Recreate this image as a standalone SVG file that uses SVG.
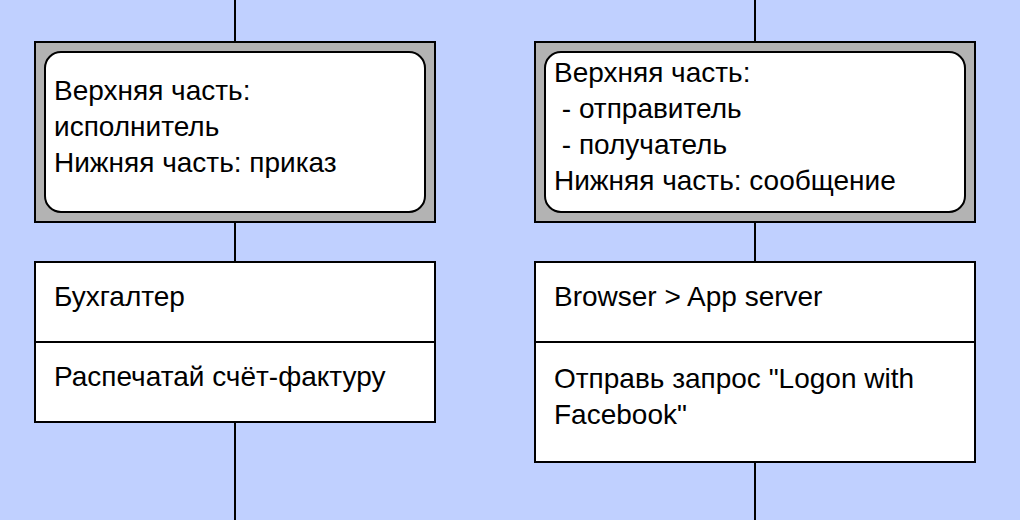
<svg xmlns="http://www.w3.org/2000/svg" width="1020" height="520" viewBox="0 0 1020 520">
<style>
.ln{stroke:#000;stroke-width:2;fill:none}
.outer{fill:#b3b3b3;stroke:#000;stroke-width:2}
.inner{fill:#fff;stroke:#000;stroke-width:2}
.box{fill:#fff;stroke:#000;stroke-width:2}
text{font-family:"Liberation Sans",Arial,sans-serif;font-size:28px;fill:#000}
</style>
<rect width="1020" height="520" fill="#c0d0ff"/>
<g id="connectors">
<line class="ln" x1="235" y1="0" x2="235" y2="42"/>
<line class="ln" x1="235" y1="222" x2="235" y2="262"/>
<line class="ln" x1="235" y1="422" x2="235" y2="520"/>
<line class="ln" x1="755" y1="0" x2="755" y2="42"/>
<line class="ln" x1="755" y1="222" x2="755" y2="262"/>
<line class="ln" x1="755" y1="462" x2="755" y2="520"/>
</g>
<g id="legend-left">
<rect class="outer" x="35" y="42" width="400" height="180"/>
<rect class="inner" x="45" y="52" width="380" height="160" rx="16"/>
<text x="54" y="100">Верхняя часть:</text>
<text x="54" y="136">исполнитель</text>
<text x="54" y="172">Нижняя часть: приказ</text>
</g>
<g id="legend-right">
<rect class="outer" x="535" y="42" width="440" height="180"/>
<rect class="inner" x="545" y="52" width="420" height="160" rx="16"/>
<text x="554" y="82">Верхняя часть:</text>
<text x="554" y="118" xml:space="preserve"> - отправитель</text>
<text x="554" y="154" xml:space="preserve"> - получатель</text>
<text x="554" y="190">Нижняя часть: сообщение</text>
</g>
<g id="message-left">
<rect class="box" x="35" y="262" width="400" height="160"/>
<line class="ln" x1="35" y1="342" x2="435" y2="342"/>
<text x="54" y="306">Бухгалтер</text>
<text x="54" y="386">Распечатай счёт-фактуру</text>
</g>
<g id="message-right">
<rect class="box" x="535" y="262" width="440" height="200"/>
<line class="ln" x1="535" y1="342" x2="975" y2="342"/>
<text x="554" y="306">Browser &gt; App server</text>
<text x="554" y="388">Отправь запрос "Logon with</text>
<text x="554" y="424">Facebook"</text>
</g>
</svg>
